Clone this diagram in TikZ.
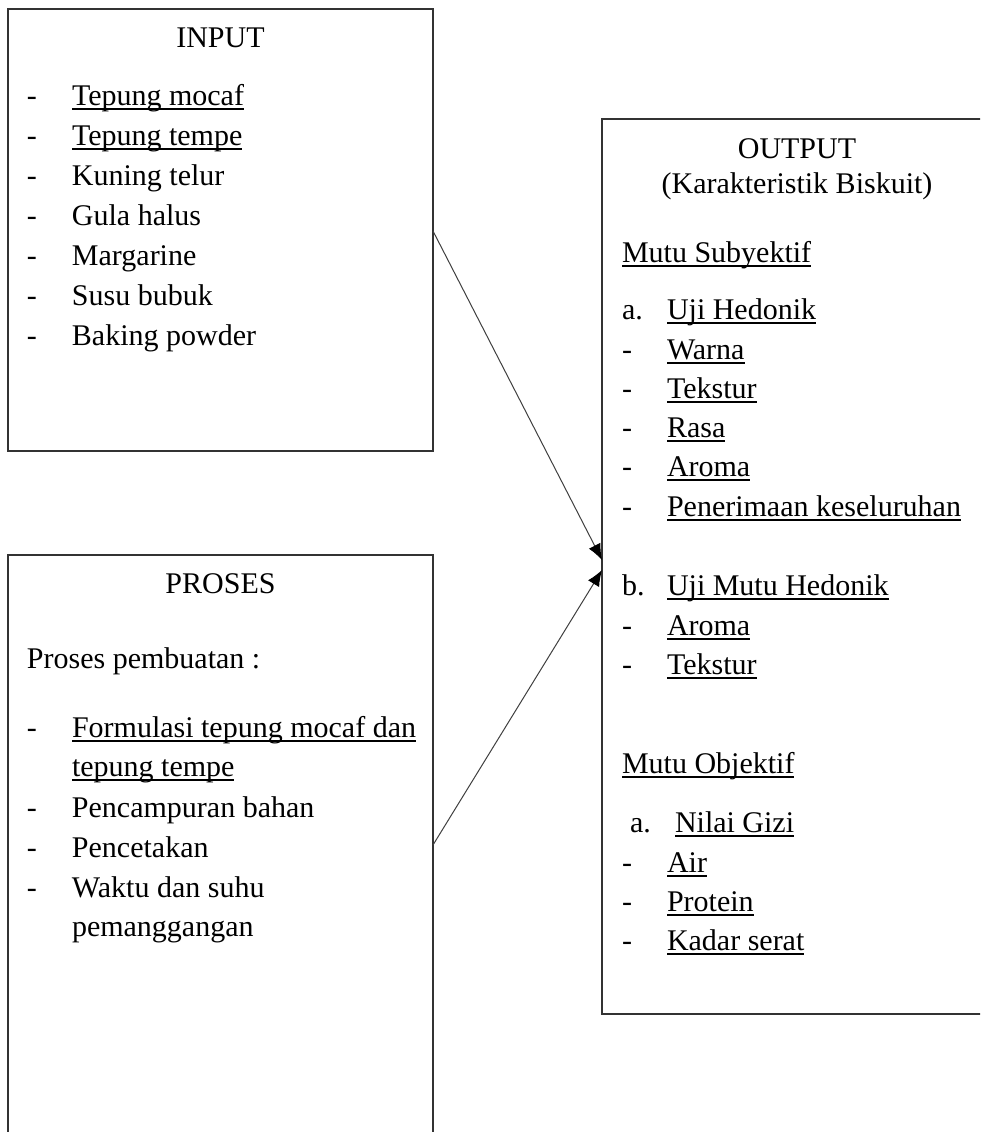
\documentclass[tikz,border=0pt]{standalone}
\usepackage{fontspec}
\setmainfont{Liberation Serif}
\usetikzlibrary{arrows.meta}
\newcommand\ulx[1]{\setbox0=\hbox{#1}\rlap{\rule[-5pt]{\wd0}{1.9pt}}\box0}
\newcommand\itm[2]{\makebox[45pt][l]{#1}#2}
\tikzset{
  boxshape/.style={draw=black!80, line width=1.6pt, inner sep=0pt, outer sep=0pt},
  txt/.style={inner sep=0pt, outer sep=0pt, anchor=base west},
  ttl/.style={inner sep=0pt, outer sep=0pt, anchor=base},
  conn/.style={draw=black!75, line width=1pt, -{Latex[length=16pt,width=13pt,fill=black,color=black]}}
}
\begin{document}
\begin{tikzpicture}[x=1pt,y=-1pt,font=\fontsize{30pt}{36pt}\selectfont]
\useasboundingbox (0,0) rectangle (980,1132);
\clip (0,0) rectangle (980,1132);
\fill[white] (0,0) rectangle (980,1132);
% boxes
\node[boxshape, minimum width=425pt, minimum height=442pt] (inbox) at (220.5,230) {};
\node[boxshape, minimum width=425pt, minimum height=695pt] (prbox) at (220.5,902.5) {};
\node[boxshape, minimum width=458pt, minimum height=895pt] (outbox) at (831,566.5) {};
% INPUT
\node[ttl] (inT) at (220.5,47.5) {INPUT};
\node[txt] (in1) at (27,105) {\itm{-}{\ulx{Tepung mocaf}}};
\node[txt] (in2) at (27,145) {\itm{-}{\ulx{Tepung tempe}}};
\node[txt] (in3) at (27,185) {\itm{-}{Kuning telur}};
\node[txt] (in4) at (27,225) {\itm{-}{Gula halus}};
\node[txt] (in5) at (27,265) {\itm{-}{Margarine}};
\node[txt] (in6) at (27,305) {\itm{-}{Susu bubuk}};
\node[txt] (in7) at (27,345) {\itm{-}{Baking powder}};
% PROSES
\node[ttl] (prT) at (220.5,593) {PROSES};
\node[txt] (pr0) at (27,668) {Proses pembuatan :};
\node[txt] (pr1) at (27,737) {\itm{-}{\ulx{Formulasi tepung mocaf dan}}};
\node[txt] (pr1b) at (72,776) {\ulx{tepung tempe}};
\node[txt] (pr2) at (27,817) {\itm{-}{Pencampuran bahan}};
\node[txt] (pr3) at (27,857) {\itm{-}{Pencetakan}};
\node[txt] (pr4) at (27,897) {\itm{-}{Waktu dan suhu}};
\node[txt] (pr4b) at (72,936) {pemanggangan};
% OUTPUT
\node[ttl] (outT) at (797,158) {OUTPUT};
\node[ttl] (outT2) at (797,193) {(Karakteristik Biskuit)};
\node[txt] (ms) at (622,262) {\ulx{Mutu Subyektif}};
\node[txt] (ua) at (622,319) {\itm{a.}{\ulx{Uji Hedonik}}};
\node[txt] (u1) at (622,359) {\itm{-}{\ulx{Warna}}};
\node[txt] (u2) at (622,398) {\itm{-}{\ulx{Tekstur}}};
\node[txt] (u3) at (622,437) {\itm{-}{\ulx{Rasa}}};
\node[txt] (u4) at (622,476) {\itm{-}{\ulx{Aroma}}};
\node[txt] (u5) at (622,516) {\itm{-}{\ulx{Penerimaan keseluruhan}}};
\node[txt] (ub) at (622,595) {\itm{b.}{\ulx{Uji Mutu Hedonik}}};
\node[txt] (v1) at (622,635) {\itm{-}{\ulx{Aroma}}};
\node[txt] (v2) at (622,674) {\itm{-}{\ulx{Tekstur}}};
\node[txt] (mo) at (622,773) {\ulx{Mutu Objektif}};
\node[txt] (na) at (630,832) {\itm{a.}{\ulx{Nilai Gizi}}};
\node[txt] (n1) at (622,872) {\itm{-}{\ulx{Air}}};
\node[txt] (n2) at (622,911) {\itm{-}{\ulx{Protein}}};
\node[txt] (n3) at (622,950) {\itm{-}{\ulx{Kadar serat}}};
% connectors
\draw[conn] ([yshift=-222pt]inbox.north east) -- ([yshift=-441pt]outbox.north west);
\draw[conn] ([yshift=-290pt]prbox.north east) -- ([yshift=-451pt]outbox.north west);
\end{tikzpicture}
\end{document}
